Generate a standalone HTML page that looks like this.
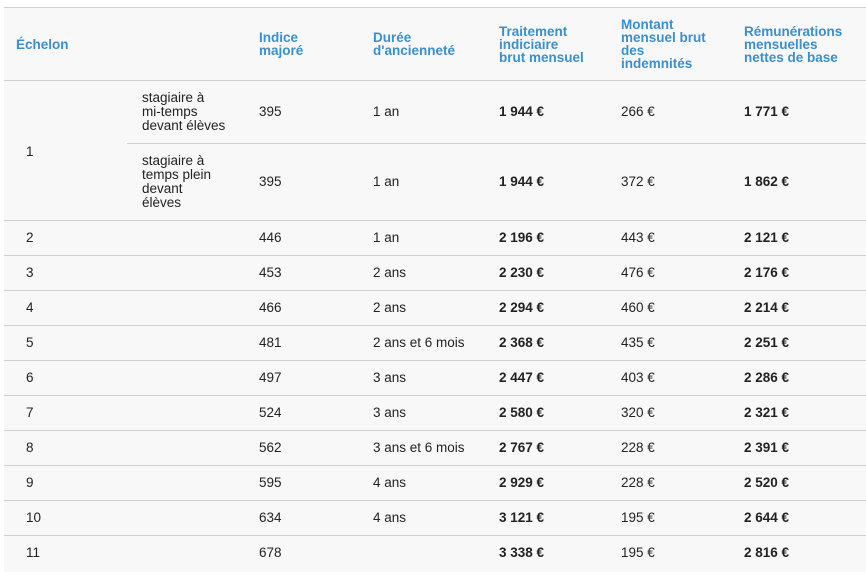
<!DOCTYPE html>
<html><head><meta charset="utf-8"><style>
body{margin:0;width:866px;height:578px;background:#fff;font-family:"Liberation Sans Narrow","Liberation Sans",sans-serif;overflow:hidden;position:relative}
#t{position:absolute;left:4px;top:7px;width:862px;height:564px;background:#f8f8f8;border-top:1px solid #d0d0d0}
.h{position:absolute;color:#3a8fd0;font-weight:bold;font-size:13.5px;line-height:13px}
.c{position:absolute;font-size:13.5px;color:#222;line-height:14px}
.b{font-weight:bold}
.l{position:absolute;height:1px;background:#d0d0d0;right:0}
</style></head><body>
<div id="t"></div>
<div id="root"></div>
<script>
const rows=[["2","446","1 an","2 196 €","443 €","2 121 €"],["3","453","2 ans","2 230 €","476 €","2 176 €"],["4","466","2 ans","2 294 €","460 €","2 214 €"],["5","481","2 ans et 6 mois","2 368 €","435 €","2 251 €"],["6","497","3 ans","2 447 €","403 €","2 286 €"],["7","524","3 ans","2 580 €","320 €","2 321 €"],["8","562","3 ans et 6 mois","2 767 €","228 €","2 391 €"],["9","595","4 ans","2 929 €","228 €","2 520 €"],["10","634","4 ans","3 121 €","195 €","2 644 €"],["11","678","","3 338 €","195 €","2 816 €"]];
const root=document.getElementById('root');
function add(cls,x,y,html,name){const d=document.createElement('div');d.className=cls;d.style.left=x+'px';d.style.top=y+'px';d.innerHTML=html;


root.appendChild(d);return d;}
function line(x,y){const d=document.createElement('div');d.className='l';d.style.left=x+'px';d.style.top=y+'px';


root.appendChild(d);}
// header
add('h',16,38,'Échelon','header-echelon');
add('h',259,31,'Indice<br>majoré','header-indice');
add('h',373,31,'Durée<br>d\'ancienneté','header-duree');
add('h',499,25,'Traitement<br>indiciaire<br>brut mensuel','header-traitement');
add('h',621,18,'Montant<br>mensuel brut<br>des<br>indemnités','header-montant');
add('h',744,25,'Rémunérations<br>mensuelles<br>nettes de base','header-remuneration');
line(4,80);
add('c',26,145,'1','cell-echelon-1');
add('c',142,91,'stagiaire à<br>mi-temps<br>devant élèves','cell-stagiaire-mi-temps');
add('c',259,105,'395','cell');add('c',373,105,'1 an','cell');
add('c b',499,105,'1 944 €','cell');add('c',621,105,'266 €','cell');add('c b',744,105,'1 771 €','cell');
line(127,143);
add('c',142,154,'stagiaire à<br>temps plein<br>devant<br>élèves','cell-stagiaire-temps-plein');
add('c',259,175,'395','cell');add('c',373,175,'1 an','cell');
add('c b',499,175,'1 944 €','cell');add('c',621,175,'372 €','cell');add('c b',744,175,'1 862 €','cell');
rows.forEach((r,i)=>{const top=220+i*35;line(4,top);const y=top+11;
add('c',26,y,r[0],'cell-echelon');add('c',259,y,r[1],'cell-indice');add('c',373,y,r[2],'cell-duree');
add('c b',499,y,r[3],'cell-traitement');add('c',621,y,r[4],'cell-montant');add('c b',744,y,r[5],'cell-remuneration');});
</script>
</body></html>
